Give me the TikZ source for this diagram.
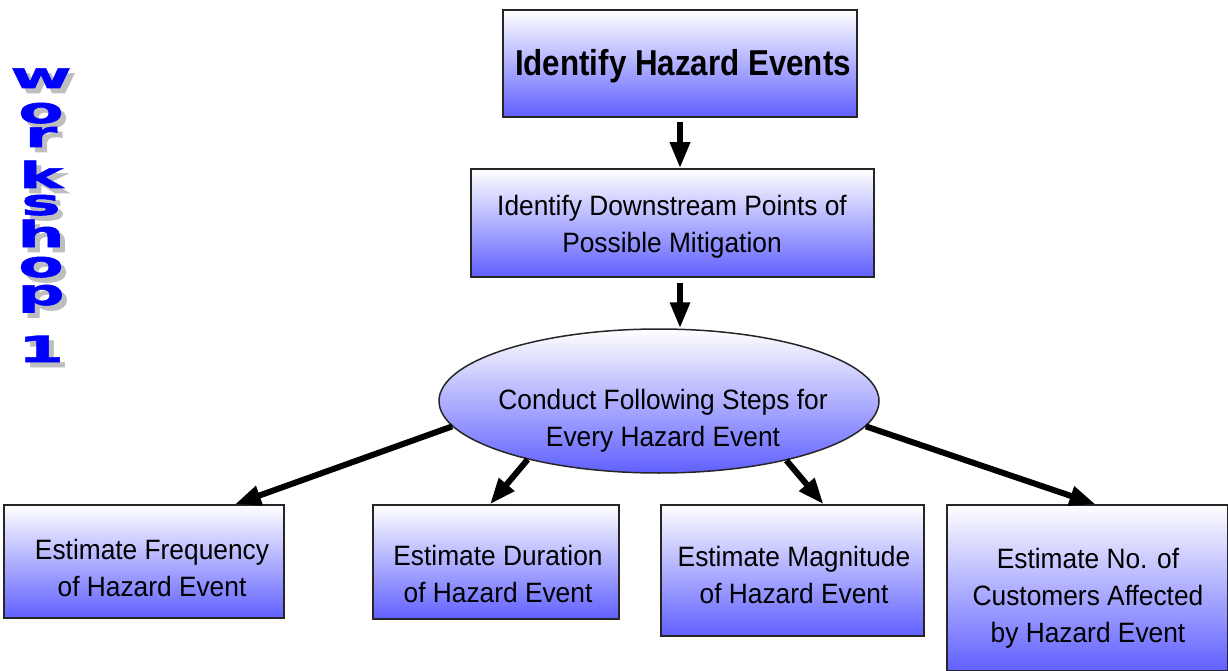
\documentclass[tikz,border=0pt]{standalone}
\usepackage{fontspec}
\setmainfont{Liberation Sans}[FakeStretch=0.94]
\newfontfamily\titlefont{Liberation Sans}[FakeStretch=0.87]
\newfontfamily\wsfont{DejaVu Sans}[FakeStretch=1.85, FakeBold=1.5]
\usetikzlibrary{shapes.geometric, arrows.meta}
\definecolor{boxblue}{RGB}{96,96,255}
\definecolor{wsblue}{RGB}{0,0,255}
\definecolor{wsgray}{RGB}{190,190,190}
\newcommand{\wsglyph}[1]{\rlap{\hspace{5pt}\raisebox{-5pt}{\textcolor{wsgray}{#1}}}\textcolor{wsblue}{#1}}

\begin{document}
\begin{tikzpicture}[x=1pt, y=-1pt,
    box/.style={draw=black!85, line width=1.5pt, top color=white, bottom color=boxblue, inner sep=0pt},
    oval/.style={ellipse, draw=black!85, line width=1.5pt, top color=white, bottom color=boxblue, inner sep=0pt},
    txt/.style={align=center, inner sep=0pt, font=\fontsize{28}{37}\selectfont},
    flow/.style={line width=6pt, -{Triangle[length=26pt, width=19pt]}},
    wsletter/.style={inner sep=0pt, anchor=base, font=\wsfont\bfseries\fontsize{36}{36}\selectfont}]
    \useasboundingbox (0,0) rectangle (1228,671);

    % Workshop 1 (vertical)
    \foreach \ch/\yy [count=\i] in {w/88, o/123, r/147, k/188, s/215, h/247, o/277, p/305, 1/362} {
        \node[wsletter] (ws\i) at (41, \yy) {\wsglyph{\ch}};
    }

    % Boxes
    \node[box, minimum width=354pt, minimum height=107pt] (hazards) at (680, 63.5) {};
    \node[txt, font=\titlefont\bfseries\fontsize{36}{44}\selectfont] (hazardstxt) at (683, 66) {Identify Hazard Events};
    \node[box, minimum width=403pt, minimum height=108pt] (points) at (672.5, 223) {};
    \node[txt] (pointstxt) at (672, 226.5) {Identify Downstream Points of\\Possible Mitigation};
    \node[oval, minimum width=440pt, minimum height=144pt] (steps) at (659, 401) {};
    \node[txt] (stepstxt) at (663, 421) {Conduct Following Steps for\\Every Hazard Event};

    \node[box, minimum width=280pt, minimum height=113pt] (freq) at (144, 561.5) {};
    \node[txt] (freqtxt) at (152, 567.5) {Estimate Frequency\\of Hazard Event};
    \node[box, minimum width=246pt, minimum height=114pt] (dur) at (496, 562) {};
    \node[txt] (durtxt) at (498, 573.5) {Estimate Duration\\of Hazard Event};
    \node[box, minimum width=263pt, minimum height=131pt] (mag) at (792.5, 570.5) {};
    \node[txt] (magtxt) at (794, 575) {Estimate Magnitude\\of Hazard Event};
    \node[box, minimum width=281pt, minimum height=166pt] (cust) at (1087.5, 588) {};
    \node[txt] (custtxt) at (1088, 598.5) {Estimate No. of\\Customers Affected\\by Hazard Event};

    % Arrows
    \draw[flow] ([yshift=-4pt]hazards.south) -- (hazards.south |- points.north);
    \draw[flow] ([yshift=-5pt]points.south -| hazards.south) -- (hazards.south |- steps.north);
    \draw[flow] (steps.187) -- ([xshift=91pt]freq.north);
    \draw[flow] (steps.204) -- ([xshift=-6pt]dur.north);
    \draw[flow] (steps.335) -- ([xshift=31pt]mag.north);
    \draw[flow] (steps.353) -- ([xshift=8pt]cust.north);
\end{tikzpicture}
\end{document}
